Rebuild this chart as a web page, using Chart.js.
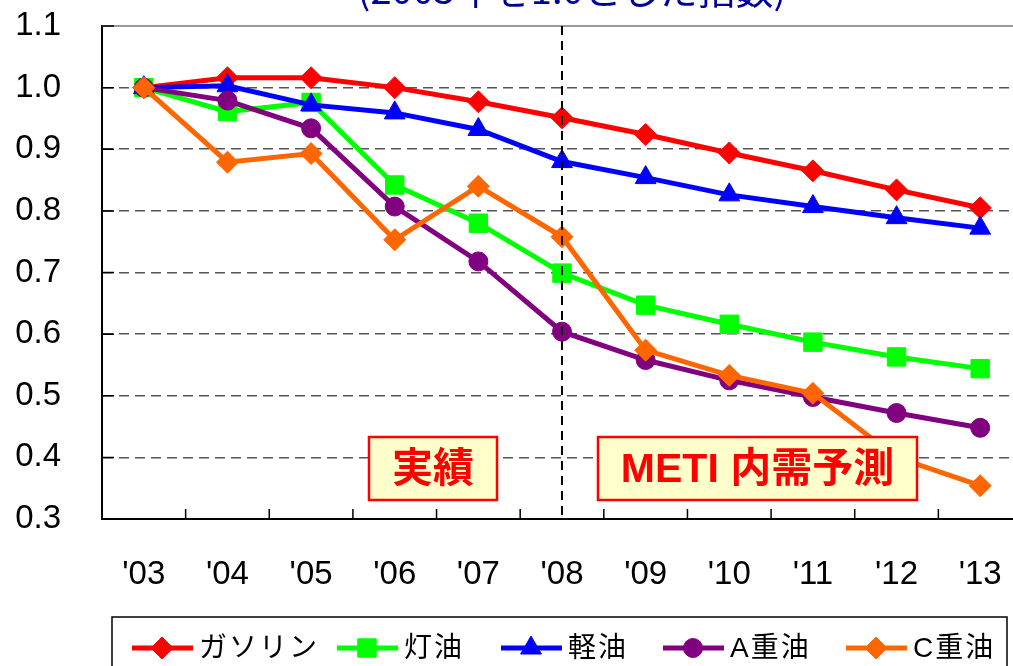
<!DOCTYPE html>
<html>
<head>
  <meta charset="utf-8">
  <title>燃料油 内需指数</title>
  <script src="https://cdn.jsdelivr.net/npm/chart.js"></script>
  <style>
    body {
      margin: 0;
      padding: 0;
      overflow: hidden;
      background: #fff;
    }
    #wrap {
      width: 1024px;
      height: 666px;
    }
    canvas {
      display: block;
    }
  </style>
</head>
<body>
  <!-- plot area runs a little past the right edge of the picture -->
  <div id="wrap">
    <canvas id="myChart" width="1024" height="666"></canvas>
  </div>

  <script>
    // 2003年 = 1.0 の指数
    const years = ["'03", "'04", "'05", "'06", "'07", "'08", "'09", "'10", "'11", "'12", "'13"];
    const gasoline = [1.0, 1.016, 1.016, 1.0, 0.977, 0.951, 0.924, 0.894, 0.865, 0.834, 0.805];
    const kerosene = [1.0, 0.961, 0.976, 0.842, 0.780, 0.699, 0.647, 0.616, 0.587, 0.563, 0.544];
    const diesel = [1.0, 1.003, 0.972, 0.959, 0.932, 0.880, 0.854, 0.826, 0.807, 0.789, 0.772];
    const heavyA = [1.0, 0.979, 0.934, 0.807, 0.718, 0.604, 0.558, 0.525, 0.498, 0.472, 0.448];
    const heavyC = [1.0, 0.879, 0.893, 0.753, 0.840, 0.758, 0.574, 0.533, 0.504, 0.400, 0.354];
    const seriesNames = ['ガソリン', '灯油', '軽油', 'A重油', 'C重油'];
    const splitYear = "'08";

    const cjk = '"Noto Sans CJK JP", "Noto Sans", sans-serif';
    const latin = '"Liberation Sans", Arial, "Noto Sans CJK JP", sans-serif';

    function series(label, data, color, style, radius, order) {
      return {
        label: label,
        data: data,
        borderColor: color,
        backgroundColor: color,
        pointBackgroundColor: color,
        pointBorderColor: color,
        borderWidth: 5,
        pointStyle: style,
        pointRadius: radius,
        pointBorderWidth: 1,
        tension: 0,
        order: order
      };
    }

    // 目盛・区切り線・注記・凡例
    const extras = {
      id: 'extras',
      beforeDatasetsDraw(chart) {
        const ctx = chart.ctx;
        const a = chart.chartArea;
        const x = chart.scales.x;
        const y = chart.scales.y;
        ctx.save();
        // top border
        ctx.strokeStyle = '#999';
        ctx.lineWidth = 2;
        ctx.beginPath();
        ctx.moveTo(a.left, a.top);
        ctx.lineTo(a.right, a.top);
        ctx.stroke();
        // inward ticks
        ctx.strokeStyle = '#000';
        ctx.lineWidth = 1.5;
        ctx.beginPath();
        for (let i = 1; i < years.length; i++) {
          const px = x.getPixelForValue(i - 0.5);
          ctx.moveTo(px, a.bottom);
          ctx.lineTo(px, a.bottom - 10);
        }
        y.ticks.forEach(t => {
          const py = y.getPixelForValue(t.value);
          ctx.moveTo(a.left, py);
          ctx.lineTo(a.left + 12, py);
        });
        ctx.stroke();
        ctx.restore();
      },
      afterDatasetsDraw(chart) {
        const ctx = chart.ctx;
        const a = chart.chartArea;
        const x = chart.scales.x;
        ctx.save();
        // 実績 / 予測 の区切り
        const sx = x.getPixelForValue(years.indexOf(splitYear));
        ctx.strokeStyle = '#000';
        ctx.lineWidth = 2;
        ctx.setLineDash([9, 6]);
        ctx.beginPath();
        ctx.moveTo(sx, a.top);
        ctx.lineTo(sx, a.bottom);
        ctx.stroke();
        ctx.setLineDash([]);

        // 注記ボックス
        const boxes = [
          { text: '実績', x: 369, y: 437, w: 128, h: 63 },
          { text: 'METI 内需予測', x: 598, y: 437, w: 319, h: 63 }
        ];
        boxes.forEach(b => {
          ctx.fillStyle = '#FFFFCC';
          ctx.fillRect(b.x, b.y, b.w, b.h);
          ctx.strokeStyle = '#FF0000';
          ctx.lineWidth = 2.5;
          ctx.strokeRect(b.x, b.y, b.w, b.h);
          ctx.fillStyle = '#FF0000';
          ctx.font = 'bold 41px ' + latin;
          ctx.textAlign = 'center';
          ctx.textBaseline = 'middle';
          ctx.fillText(b.text, b.x + b.w / 2, b.y + b.h / 2 + 2);
        });

        // タイトル（上端で切れている）
        ctx.fillStyle = '#000099';
        ctx.font = '38px ' + cjk;
        ctx.textAlign = 'center';
        ctx.textBaseline = 'alphabetic';
        ctx.fillText('(2003年を1.0とした指数)', 572, 4);

        // 凡例
        ctx.strokeStyle = '#000';
        ctx.lineWidth = 1.5;
        ctx.strokeRect(112, 617, 895, 60);
        const starts = [132, 337, 501, 663, 846];
        const ly = 648;
        ctx.font = '28px ' + latin;
        ctx.letterSpacing = '2px';
        ctx.textAlign = 'left';
        ctx.textBaseline = 'middle';
        chart.data.datasets.forEach((ds, i) => {
          const lx = starts[i];
          ctx.strokeStyle = ds.borderColor;
          ctx.lineWidth = 5;
          ctx.beginPath();
          ctx.moveTo(lx, ly);
          ctx.lineTo(lx + 61, ly);
          ctx.stroke();
          ctx.fillStyle = ds.backgroundColor;
          ctx.strokeStyle = ds.borderColor;
          ctx.lineWidth = 1;
          Chart.helpers.drawPoint(ctx, {
            pointStyle: ds.pointStyle,
            radius: ds.pointRadius,
            rotation: 0,
            borderWidth: 1
          }, lx + 30, ly);
          ctx.fillStyle = '#000';
          ctx.fillText(ds.label, lx + 67, ly + 1);
        });
        ctx.restore();
      }
    };

    const ctx = document.getElementById('myChart').getContext('2d');
    const chart = new Chart(ctx, {
      type: 'line',
      data: {
        labels: years,
        datasets: [
          series(seriesNames[0], gasoline, '#FF0000', 'rectRot', 11, 5),
          series(seriesNames[1], kerosene, '#00FF00', 'rect', 13, 4),
          series(seriesNames[2], diesel, '#0000FF', 'triangle', 12, 3),
          series(seriesNames[3], heavyA, '#800080', 'circle', 9.5, 2),
          series(seriesNames[4], heavyC, '#FF6600', 'rectRot', 11, 1)
        ]
      },
      options: {
        responsive: false,
        animation: false,
        layout: {
          autoPadding: false,
          padding: { top: 26, right: 2, bottom: 67, left: 0 }
        },
        plugins: {
          legend: { display: false },
          tooltip: { enabled: false }
        },
        scales: {
          x: {
            offset: true,
            grid: { drawOnChartArea: false, drawTicks: false },
            border: { display: true, color: '#000', width: 2 },
            ticks: {
              color: '#000',
              padding: 36,
              maxRotation: 0,
              autoSkip: false,
              font: { family: latin, size: 33 }
            },
            afterFit(s) {
              s.height = 80;
              s.paddingLeft = 0;
              s.paddingRight = 0;
            }
          },
          y: {
            min: 0.3,
            max: 1.1,
            grid: {
              drawTicks: false,
              color: c => (c.tick && c.tick.value > 1.05) ? 'rgba(0,0,0,0)' : '#555',
              lineWidth: 1.5
            },
            border: { display: true, color: '#000', width: 2, dash: [10, 6] },
            ticks: {
              stepSize: 0.1,
              color: '#000',
              padding: 41,
              font: { family: latin, size: 33 },
              callback: v => v.toFixed(1)
            },
            afterFit(s) {
              s.width = 102;
              s.paddingTop = 0;
              s.paddingBottom = 0;
            }
          }
        }
      },
      plugins: [extras]
    });
  </script>
</body>
</html>
